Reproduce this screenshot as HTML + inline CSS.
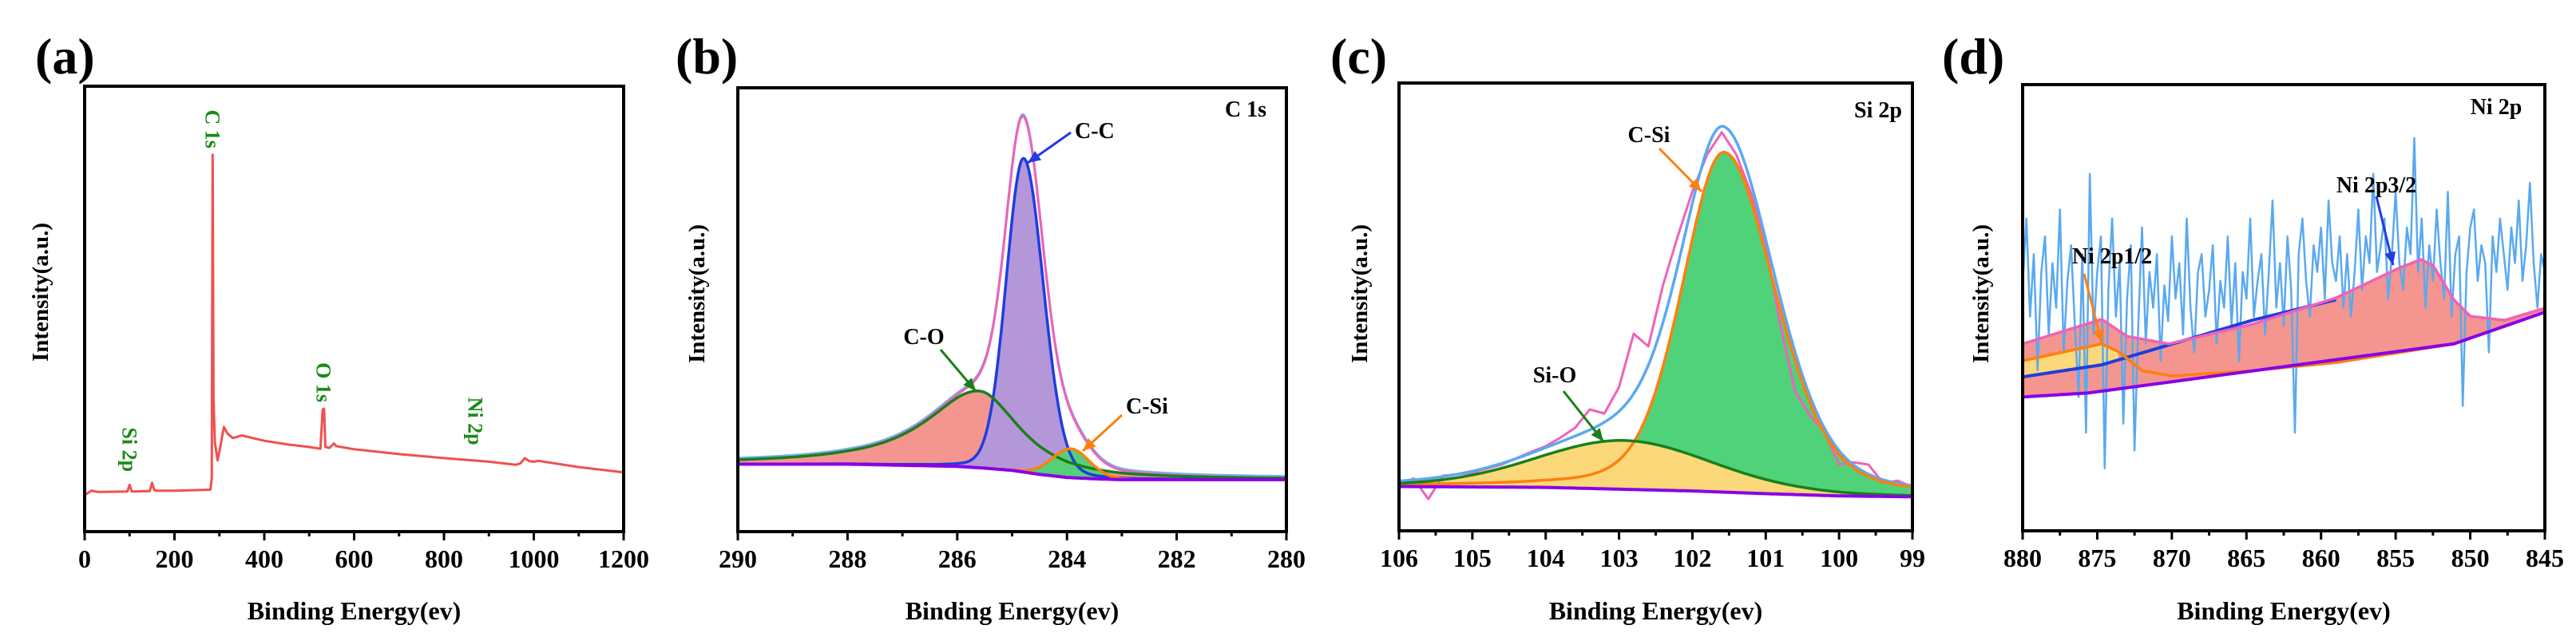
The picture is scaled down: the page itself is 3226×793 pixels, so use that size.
<!DOCTYPE html>
<html><head><meta charset="utf-8"><style>
html,body{margin:0;padding:0;background:#fff;}
svg{display:block;}
text{font-family:"Liberation Serif",serif;font-weight:bold;}
</style></head><body>
<svg id="fig" xmlns="http://www.w3.org/2000/svg" width="3226" height="793" viewBox="0 0 3226 793"></svg>
<script>
// ---------- Panel (a) survey ----------
const aEnergy=[0,15,30,95,100,105,145,150,155,160,200,280,283,285,287,290,296,300,310,318,330,350,400,450,500,525,530,533,536,545,555,560,600,700,800,900,960,970,980,990,1000,1010,1100,1200];
const aIntensity=[8.2,9.2,8.9,9.0,10.5,9.0,9.1,11,9.3,9.2,9.2,9.4,12,84.6,30,20,16,18,23.5,22,21,21.6,20.4,19.6,19,18.6,27.4,27.6,19,18.8,19.8,19.2,18.5,17.4,16.5,15.7,15.0,15.3,16.5,15.8,15.7,15.9,14.5,13.3];
const aTicks=[0,200,400,600,800,1000,1200];
const aPeakLabels=["Si 2p","C 1s","O 1s","Ni 2p"];
const aPeakPos=[100,285,532,870];
const aPeakVal=[12,84.6,27.6,18];

// ---------- Panel (b) C 1s ----------
const bTicks=[290,288,286,284,282,280];
const bBgEnergy=[290,288,286,285.5,285,284.5,284,283.5,283,280];
const bBgValue=[15.2,15.2,14.7,14.3,13.8,12.9,12.2,11.9,11.7,11.7];
const bPeakNames=["C-C","C-O","C-Si"];
const bPeakCenter=[284.79,285.6,283.93];
const bPeakHeight=[70.7,17.3,6.5];
const bPeakWidthHi=[0.75,2.3,0.8];
const bPeakWidthLo=[0.85,1.7,0.8];
const bPeakMix=[0.1,0.9,0.1];

// ---------- Panel (c) Si 2p ----------
const cTicks=[106,105,104,103,102,101,100,99];
const cBgEnergy=[106,104,102,101,100,99];
const cBgValue=[9.9,9.7,8.9,8.3,7.8,7.6];
const cPeakNames=["C-Si","Si-O"];
const cPeakCenter=[101.57,102.93];
const cPeakHeight=[75.9,10.9];
const cPeakWidthHi=[1.35,2.83];
const cPeakWidthLo=[1.65,2.83];
const cPeakMix=[0.3,0.2];
const cRawEnergy=[106,105.8,105.6,105.4,105.2,105,104.8,104.6,104.4,104.2,104,103.8,103.6,103.4,103.2,103,102.8,102.6,102.4,102.2,102,101.8,101.6,101.4,101.2,101,100.8,100.6,100.4,100.2,100,99.8,99.6,99.4,99.2,99];
const cRawValue=[10.3,11.7,7.1,12.3,12.6,13,13.9,14.8,16.2,17.6,18.9,20.8,23,27.1,26.2,32.1,44,41.2,54.9,65.8,75.8,84,89,84,75.4,64,45.8,31.2,25.8,22.1,14.8,15.3,14.8,10.7,11.2,9.8];

// ---------- Panel (d) Ni 2p ----------
const dTicks=[880,875,870,865,860,855,850,845];
const dEnvEnergy=[880,874.7,873,870.2,864.6,859,854.7,853.3,852.5,851.1,850,847.7,845];
const dEnvValue=[41.9,47.4,43.6,41.9,46.3,52.2,59,60.8,59.5,51.8,48.1,47.2,49.9];
const dBgEnergy=[880,875.6,851.1,845];
const dBgValue=[30,30.9,41.9,49];
const dP32Energy=[880,874.7,864.6,859];
const dP32Value=[34.5,37.2,47.2,51.8];
const dP12Energy=[880,874.7,873.5,872,870,864.6,859,851.1];
const dP12Value=[38.1,41.9,40,35.9,34.7,35.9,37.7,41.9];
const dRawStart=880, dRawStep=0.25;
const dRawValue=[55,70,48,62,36,58,66,44,60,50,72,40,56,64,46,30,62,22,80,44,58,66,14,54,70,48,60,24,52,64,18,46,68,42,58,50,62,38,55,47,66,52,60,44,70,50,40,58,62,48,54,64,42,56,50,66,46,60,38,58,52,70,48,56,62,44,58,74,50,60,46,66,54,22,62,70,56,48,64,58,68,52,74,60,56,66,50,62,48,58,72,54,66,60,80,58,64,70,52,62,76,60,54,68,62,88,58,70,50,64,56,72,60,52,76,48,62,66,28,58,68,72,56,64,60,40,66,58,70,62,54,68,60,74,56,64,78,60,50,62,58];

const NS="http://www.w3.org/2000/svg";
const svg=document.getElementById('fig');
function mk(tag,parent){const e=document.createElementNS(NS,tag);(parent||svg).appendChild(e);return e;}
function interp(xs,ys,x){
  for(let i=0;i<xs.length-1;i++){
    const a=xs[i],b=xs[i+1];
    if((x>=Math.min(a,b))&&(x<=Math.max(a,b))){const t=(x-a)/(b-a);return ys[i]+t*(ys[i+1]-ys[i]);}
  }
  return Math.abs(x-xs[0])<Math.abs(x-xs[xs.length-1])?ys[0]:ys[ys.length-1];
}
function pv(E,c,h,wHi,wLo,m){const w=E>c?wHi:wLo;const d=E-c;return h*(m/(1+Math.pow(2*d/w,2))+(1-m)*Math.exp(-4*Math.LN2*d*d/(w*w)));}
function axes(x0,x1,y0,y1,e0,e1){
  return {sx:e=>x0+(e-e0)/(e1-e0)*(x1-x0), sy:v=>y1-v/100*(y1-y0), x0,x1,y0,y1,e0,e1};
}
function pathD(pts){return pts.map((p,i)=>(i?'L':'M')+p[0].toFixed(1)+','+p[1].toFixed(1)).join('');}
function frame(g,ax,ticks,minorStep,name){
  const r=mk('rect',g);
  
  
  r.setAttribute('x',ax.x0);r.setAttribute('y',ax.y0);r.setAttribute('width',ax.x1-ax.x0);r.setAttribute('height',ax.y1-ax.y0);
  r.setAttribute('fill','none');r.setAttribute('stroke','#000');r.setAttribute('stroke-width','4');
  const lo=Math.min(ax.e0,ax.e1),hi=Math.max(ax.e0,ax.e1);
  for(let e=lo;e<=hi+1e-6;e+=minorStep){
    const isMaj=ticks.some(t=>Math.abs(t-e)<1e-6);
    const l=mk('line',g);
    
    
    const x=ax.sx(e);
    l.setAttribute('x1',x);l.setAttribute('x2',x);l.setAttribute('y1',ax.y1);l.setAttribute('y2',ax.y1+(isMaj?11:6));
    l.setAttribute('stroke','#000');l.setAttribute('stroke-width','3');
  }
  ticks.forEach(t=>{
    const tx=mk('text',g);
    
    
    tx.setAttribute('x',ax.sx(t));tx.setAttribute('y',ax.y1+45);tx.setAttribute('text-anchor','middle');tx.setAttribute('font-size','32');
    tx.textContent=String(t);
  });
  const xt=mk('text',g);
  
  
  xt.setAttribute('x',(ax.x0+ax.x1)/2);xt.setAttribute('y',776);xt.setAttribute('text-anchor','middle');xt.setAttribute('font-size','32');
  xt.textContent='Binding Energy(ev)';
}
function ytitle(g,x,y){
  const t=mk('text',g);
  
  
  t.setAttribute('transform','translate('+x+','+y+') rotate(-90)');t.setAttribute('text-anchor','middle');t.setAttribute('font-size','29');
  t.textContent='Intensity(a.u.)';
}
function plabel(g,x,txt){
  const t=mk('text',g);
  
  
  t.setAttribute('x',x);t.setAttribute('y',92);t.setAttribute('font-size','64');
  t.textContent=txt;
}
function txt(g,x,y,s,size,anchor,fill,name){
  const t=mk('text',g);
  
  
  t.setAttribute('x',x);t.setAttribute('y',y);t.setAttribute('font-size',size);t.setAttribute('text-anchor',anchor||'start');
  t.setAttribute('fill',fill||'#000');t.textContent=s;return t;
}
function arrow(g,x1,y1,x2,y2,col,name){
  const l=mk('line',g);
  
  
  l.setAttribute('x1',x1);l.setAttribute('y1',y1);l.setAttribute('x2',x2);l.setAttribute('y2',y2);
  l.setAttribute('stroke',col);l.setAttribute('stroke-width','3');
  const a=Math.atan2(y2-y1,x2-x1),L=16,W=7;
  const p=mk('polygon',g);
  
  
  const bx=x2-L*Math.cos(a),by=y2-L*Math.sin(a);
  p.setAttribute('points',x2+','+y2+' '+(bx+W*Math.sin(a))+','+(by-W*Math.cos(a))+' '+(bx-W*Math.sin(a))+','+(by+W*Math.cos(a)));
  p.setAttribute('fill',col);
}
function line(g,pts,col,w,name){
  const p=mk('path',g);
  
  
  p.setAttribute('d',pathD(pts));p.setAttribute('fill','none');p.setAttribute('stroke',col);p.setAttribute('stroke-width',w);p.setAttribute('stroke-linejoin','round');
  return p;
}
function area(g,top,bot,col,name){
  const p=mk('path',g);
  
  
  p.setAttribute('d',pathD(top.concat(bot.slice().reverse()))+'Z');p.setAttribute('fill',col);p.setAttribute('stroke','none');
}
function grid(e0,e1,n){const a=[];for(let i=0;i<=n;i++)a.push(e0+(e1-e0)*i/n);return a;}

// ===== Panel a =====
(function(){
  const g=mk('g');
  
  
  const ax=axes(106,781,108,666,0,1200);
  plabel(g,44,'(a)');
  ytitle(g,60,366);
  line(g,aEnergy.map((e,i)=>[ax.sx(e),ax.sy(aIntensity[i])]),'#f0504f',3,'survey-spectrum');
  aPeakLabels.forEach((s,i)=>{
    const t=mk('text',g);
    
    
    const x=ax.sx(aPeakPos[i]),y=ax.sy(aPeakVal[i])-8;
    t.setAttribute('transform','translate('+(x-9)+','+y+') rotate(90)');t.setAttribute('text-anchor','end');t.setAttribute('font-size','26');t.setAttribute('fill','#1a8a1a');
    t.textContent=s;
  });
  frame(g,ax,aTicks,100,'panel-a');
})();

// ===== Panel b =====
(function(){
  const g=mk('g');
  
  
  const ax=axes(924,1611,110,666,290,280);
  plabel(g,846,'(b)');
  ytitle(g,882,368);
  const E=grid(290,280,400);
  const bg=E.map(e=>interp(bBgEnergy,bBgValue,e));
  const comp=bPeakCenter.map((c,k)=>E.map(e=>pv(e,c,bPeakHeight[k],bPeakWidthHi[k],bPeakWidthLo[k],bPeakMix[k])));
  const P=(arr)=>E.map((e,i)=>[ax.sx(e),ax.sy(arr[i])]);
  const base=P(bg);
  const co=P(E.map((e,i)=>bg[i]+comp[1][i]));
  const cc=P(E.map((e,i)=>bg[i]+comp[0][i]));
  const cs=P(E.map((e,i)=>bg[i]+comp[2][i]));
  const env=P(E.map((e,i)=>bg[i]+comp[0][i]+comp[1][i]+comp[2][i]));
  area(g,co,base,'#f4958f','c-o-area');
  area(g,cc,base,'#b497d9','c-c-area');
  area(g,cs,base,'#55cf78','c-si-area');
  line(g,env.map(p=>[p[0],p[1]-2]),'#6fb2f0',3,'raw-spectrum');
  line(g,env,'#f062b8',3,'envelope-fit');
  line(g,cc,'#1f3de0',3.5,'c-c-fit');
  line(g,co,'#1a7f1a',3.5,'c-o-fit');
  line(g,cs,'#ff7f0e',3.5,'c-si-fit');
  line(g,base,'#8a00e6',4,'background-line');
  txt(g,1560,146,'C 1s',28,'middle','#000','core-level-label');
  txt(g,1346,173,'C-C',28,'start','#000','c-c-label');
  arrow(g,1341,166,1287,204,'#1f3de0','c-c-arrow');
  txt(g,1157,431,'C-O',28,'middle','#000','c-o-label');
  arrow(g,1178,438,1222,490,'#1a7f1a','c-o-arrow');
  txt(g,1410,518,'C-Si',28,'start','#000','c-si-label');
  arrow(g,1405,520,1356,565,'#ff7f0e','c-si-arrow');
  frame(g,ax,bTicks,1,'panel-b');
})();

// ===== Panel c =====
(function(){
  const g=mk('g');
  
  
  const ax=axes(1752,2395,104,665,106,99);
  plabel(g,1666,'(c)');
  ytitle(g,1712,368);
  const E=grid(106,99,350);
  const bg=E.map(e=>interp(cBgEnergy,cBgValue,e));
  const comp=cPeakCenter.map((c,k)=>E.map(e=>pv(e,c,cPeakHeight[k],cPeakWidthHi[k],cPeakWidthLo[k],cPeakMix[k])));
  const P=(arr)=>E.map((e,i)=>[ax.sx(e),ax.sy(arr[i])]);
  const base=P(bg);
  const csi=P(E.map((e,i)=>bg[i]+comp[0][i]));
  const sio=P(E.map((e,i)=>bg[i]+comp[1][i]));
  const env=P(E.map((e,i)=>bg[i]+comp[0][i]+comp[1][i]));
  area(g,csi,base,'#4fd27a','c-si-area');
  area(g,sio,base,'#fbd97a','si-o-area');
  line(g,cRawEnergy.map((e,i)=>[ax.sx(e),ax.sy(cRawValue[i])]),'#f062b8',3,'raw-spectrum');
  line(g,env,'#5aa9f0',3.5,'envelope-fit');
  line(g,csi,'#ff7f0e',3.5,'c-si-fit');
  line(g,sio,'#1a7f1a',3.5,'si-o-fit');
  line(g,base,'#8a00e6',4,'background-line');
  txt(g,2352,147,'Si 2p',28,'middle','#000','core-level-label');
  txt(g,2065,178,'C-Si',28,'middle','#000','c-si-label');
  arrow(g,2078,186,2131,240,'#ff7f0e','c-si-arrow');
  txt(g,1947,479,'Si-O',28,'middle','#000','si-o-label');
  arrow(g,1958,490,2008,553,'#1a7f1a','si-o-arrow');
  frame(g,ax,cTicks,0.5,'panel-c');
})();

// ===== Panel d =====
(function(){
  const g=mk('g');
  
  
  const ax=axes(2533,3187,106,665,880,845);
  plabel(g,2432,'(d)');
  ytitle(g,2490,368);
  const E=grid(880,845,350);
  const P=(xs,ys)=>E.filter(e=>e<=Math.max(...xs)+1e-9&&e>=Math.min(...xs)-1e-9).map(e=>[ax.sx(e),ax.sy(interp(xs,ys,e))]);
  const env=P(dEnvEnergy,dEnvValue);
  const base=P(dBgEnergy,dBgValue);
  const p32=P(dP32Energy,dP32Value);
  const p12=P(dP12Energy,dP12Value);
  area(g,env,base,'#f4958f','fit-area');
  const yTop=P(dP12Energy,dP12Value).filter(p=>p[0]<=ax.sx(873.6));
  const yBot=P(dP32Energy,dP32Value).filter(p=>p[0]<=ax.sx(873.6));
  area(g,yTop,yBot,'#fbd97a','ni-2p1-2-area');
  line(g,dRawValue.map((v,i)=>[ax.sx(dRawStart-i*dRawStep),ax.sy(v)]),'#5aa9f0',2.5,'raw-spectrum');
  line(g,p32,'#1f3de0',4,'ni-2p3-2-fit');
  line(g,p12,'#ff7f0e',3.5,'ni-2p1-2-fit');
  line(g,env,'#f062b8',3.5,'envelope-fit');
  line(g,base,'#8a00e6',4,'background-line');
  txt(g,3126,143,'Ni 2p',28,'middle','#000','core-level-label');
  txt(g,2976,241,'Ni 2p3/2',28,'middle','#000','ni-2p3-2-label');
  arrow(g,2976,246,2997,332,'#1f3de0','ni-2p3-2-arrow');
  txt(g,2645,330,'Ni 2p1/2',28,'middle','#000','ni-2p1-2-label');
  arrow(g,2610,343,2632,429,'#ff7f0e','ni-2p1-2-arrow');
  frame(g,ax,dTicks,2.5,'panel-d');
})();
</script>
</body></html>
